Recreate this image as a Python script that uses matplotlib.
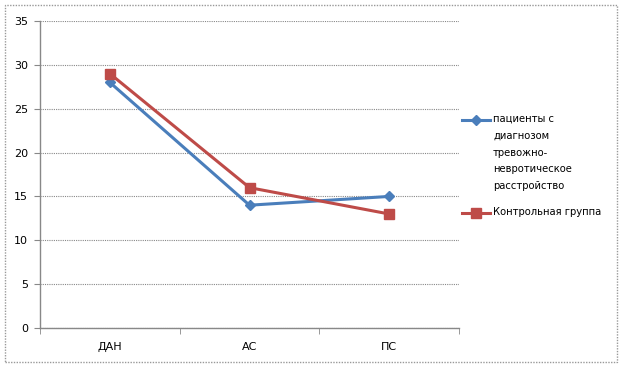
import matplotlib
matplotlib.use('Agg')
import matplotlib.pyplot as plt
from matplotlib.lines import Line2D
from matplotlib.patches import Rectangle

categories = ['ДАН', 'АС', 'ПС']
patients = [28, 14, 15]
control = [29, 16, 13]
label_patients = 'пациенты с\nдиагнозом\nтревожно-\nневротическое\nрасстройство'
label_control = 'Контрольная группа'

blue = '#4a7ebb'
red = '#be4b48'
W, H = 627, 371

fig = plt.figure(figsize=(6.27, 3.71), dpi=100)
fig.patch.set_facecolor('white')

# chart border
fig.add_artist(Rectangle((5 / W, 1 - 362 / H), 612 / W, 357 / H, transform=fig.transFigure,
                         fill=False, edgecolor='#999999', linestyle=(0, (1, 1)), linewidth=1))

ax = fig.add_axes([40 / W, 1 - 328 / H, 419 / W, 307 / H])
x = list(range(len(categories)))
ax.plot(x, patients, color=blue, linewidth=2.2, marker='D', markersize=5.5, zorder=3)
ax.plot(x, control, color=red, linewidth=2.2, marker='s', markersize=6.5, zorder=3)

ax.set_xlim(-0.5, len(categories) - 0.5)
ax.set_ylim(0, 35)
ax.set_yticks(range(0, 36, 5))
ax.set_xticks(x)
ax.set_xticklabels(categories, fontsize=8)
ax.set_xticks([-0.5, 0.5, 1.5, 2.5], minor=True)
ax.tick_params(axis='x', which='major', length=0, pad=10)
ax.tick_params(axis='x', which='minor', length=4, color='#888888')
ax.tick_params(axis='y', length=4.5, color='#888888', labelsize=8, pad=4)
ax.yaxis.grid(True, color='#888888', linewidth=0.8, linestyle=(0, (1, 1)))
ax.set_axisbelow(True)
for s in ['top', 'right']:
    ax.spines[s].set_visible(False)
for s in ['left', 'bottom']:
    ax.spines[s].set_color('#888888')
    ax.spines[s].set_linewidth(1)

# legend
def legend_item(y, color, marker, ms, text):
    fig.add_artist(Line2D([462 / W, 490 / W], [1 - y / H, 1 - y / H], transform=fig.transFigure,
                          color=color, linewidth=2.2))
    fig.add_artist(Line2D([476 / W], [1 - y / H], transform=fig.transFigure,
                          color=color, marker=marker, markersize=ms, linestyle='none'))
    fig.text(493 / W, 1 - (y - 6) / H, text, fontsize=7.2, va='top', ha='left', linespacing=1.85)

legend_item(120, blue, 'D', 5.5, label_patients)
legend_item(213, red, 's', 6.5, label_control)

fig.savefig('out.png', dpi=100)
